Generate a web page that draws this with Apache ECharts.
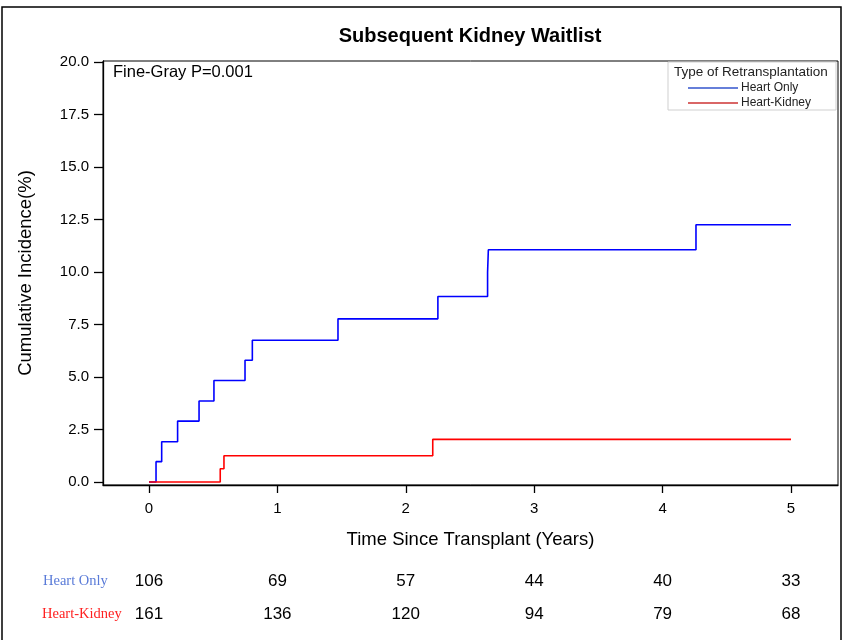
<!DOCTYPE html>
<html lang="en">
<head>
    <meta charset="UTF-8">
    <title>Subsequent Kidney Waitlist</title>
    <script src="https://cdn.jsdelivr.net/npm/echarts@6/dist/echarts.min.js"></script>
    <style>
        html, body { margin: 0; padding: 0; background: #fff; }
        #chart { width: 844px; height: 640px; }
    </style>
</head>
<body>
<div id="chart"></div>
<script>
    // step data
    var heartOnlyT = [0, 0.055, 0.099, 0.223, 0.39, 0.506, 0.748, 0.805, 1.472, 2.25, 2.637, 2.643, 4.26, 5];
    var heartOnlyV = [0, 0.97, 1.92, 2.9, 3.86, 4.83, 5.8, 6.75, 7.77, 8.83, 9.98, 11.06, 12.25, 12.25];
    var heartKidneyT = [0, 0.555, 0.584, 2.21, 5];
    var heartKidneyV = [0, 0.63, 1.25, 2.03, 2.03];

    var xTicks = [0, 1, 2, 3, 4, 5];
    var yTicks = [0, 2.5, 5, 7.5, 10, 12.5, 15, 17.5, 20];

    // numbers at risk
    var riskTimes = [0, 1, 2, 3, 4, 5];
    var riskHeartOnly = [106, 69, 57, 44, 40, 33];
    var riskHeartKidney = [161, 136, 120, 94, 79, 68];

    function pairs(t, v) {
        var out = [];
        for (var i = 0; i < t.length; i++) out.push([t[i], v[i]]);
        return out;
    }

    var font = 'Liberation Sans, Arial, sans-serif';
    var chart = echarts.init(document.getElementById('chart'), null, {renderer: 'canvas'});
    chart.setOption({
        animation: false,
        textStyle: {fontFamily: font},
        title: {
            text: 'Subsequent Kidney Waitlist',
            left: 465, top: 21, textAlign: 'center',
            textStyle: {fontSize: 20, fontWeight: 'bold', color: '#000', fontFamily: font}
        },
        grid: {
            left: 103, top: 61, right: 6, bottom: 155,
            show: true, borderColor: '#000', borderWidth: 1
        },
        legend: {
            orient: 'vertical',
            left: 683, top: 77,
            itemGap: 3,
            itemWidth: 50, itemHeight: 1.3,
            icon: 'rect',
            textStyle: {fontSize: 12, color: '#222', fontFamily: font, padding: [0, 0, 0, -2]},
            data: ['Heart Only', 'Heart-Kidney']
        },
        xAxis: {
            type: 'value', min: -0.358, max: 5.366,
            name: 'Time Since Transplant (Years)',
            nameLocation: 'middle', nameGap: 45,
            nameTextStyle: {fontSize: 18.5, color: '#000'},
            axisLine: {onZero: false, lineStyle: {color: '#000', width: 1.3}},
            axisTick: {length: 8, lineStyle: {color: '#000', width: 1.3}, customValues: xTicks},
            axisLabel: {fontSize: 15, color: '#000', margin: 16, customValues: xTicks},
            splitLine: {show: false}
        },
        yAxis: {
            type: 'value', min: -0.143, max: 20.048,
            name: 'Cumulative Incidence(%)',
            nameLocation: 'middle', nameGap: 68, nameRotate: 90,
            nameTextStyle: {fontSize: 18.5, color: '#000'},
            axisLine: {show: true, onZero: false, lineStyle: {color: '#000', width: 1.3}},
            axisTick: {show: true, length: 9, lineStyle: {color: '#000', width: 1.3}, customValues: yTicks},
            axisLabel: {fontSize: 15, color: '#000', margin: 14, customValues: yTicks,
                formatter: function (v) { return v.toFixed(1); }},
            splitLine: {show: false}
        },
        series: [
            {
                name: 'Heart Only', type: 'line', step: 'end',
                data: pairs(heartOnlyT, heartOnlyV),
                showSymbol: false, symbol: 'none',
                lineStyle: {color: '#0000ff', width: 1.6},
                itemStyle: {color: '#3355cc'}
            },
            {
                name: 'Heart-Kidney', type: 'line', step: 'end',
                data: pairs(heartKidneyT, heartKidneyV),
                showSymbol: false, symbol: 'none',
                lineStyle: {color: '#ff0000', width: 1.6},
                itemStyle: {color: '#cc3333'}
            }
        ]
    });

    // frame, legend box, annotation and the at-risk table
    var g = [
        {type: 'rect', shape: {x: 2, y: 7, width: 839, height: 700}, style: {fill: 'none', stroke: '#000', lineWidth: 1.5}, silent: true},
        {type: 'rect', shape: {x: 668, y: 62, width: 168, height: 48}, style: {fill: 'none', stroke: '#cfcfcf', lineWidth: 1}, silent: true},
        {type: 'text', x: 674, y: 72, style: {text: 'Type of Retransplantation', fill: '#222', font: '13.5px ' + font, verticalAlign: 'middle'}},
        {type: 'text', x: 113, y: 72, style: {text: 'Fine-Gray P=0.001', fill: '#000', font: '16.5px ' + font, verticalAlign: 'middle'}},
        {type: 'text', x: 43, y: 581, style: {text: 'Heart Only', fill: '#5a7bd8', font: '14.5px Liberation Serif, Times New Roman, serif', verticalAlign: 'middle'}},
        {type: 'text', x: 42, y: 614, style: {text: 'Heart-Kidney', fill: '#ff2020', font: '14.5px Liberation Serif, Times New Roman, serif', verticalAlign: 'middle'}}
    ];
    for (var i = 0; i < riskTimes.length; i++) {
        var px = chart.convertToPixel({xAxisIndex: 0}, riskTimes[i]);
        g.push({type: 'text', x: px, y: 581, style: {text: String(riskHeartOnly[i]), fill: '#000', font: '17px ' + font, align: 'center', verticalAlign: 'middle'}});
        g.push({type: 'text', x: px, y: 614, style: {text: String(riskHeartKidney[i]), fill: '#000', font: '17px ' + font, align: 'center', verticalAlign: 'middle'}});
    }
    chart.setOption({graphic: g});
</script>
</body>
</html>
